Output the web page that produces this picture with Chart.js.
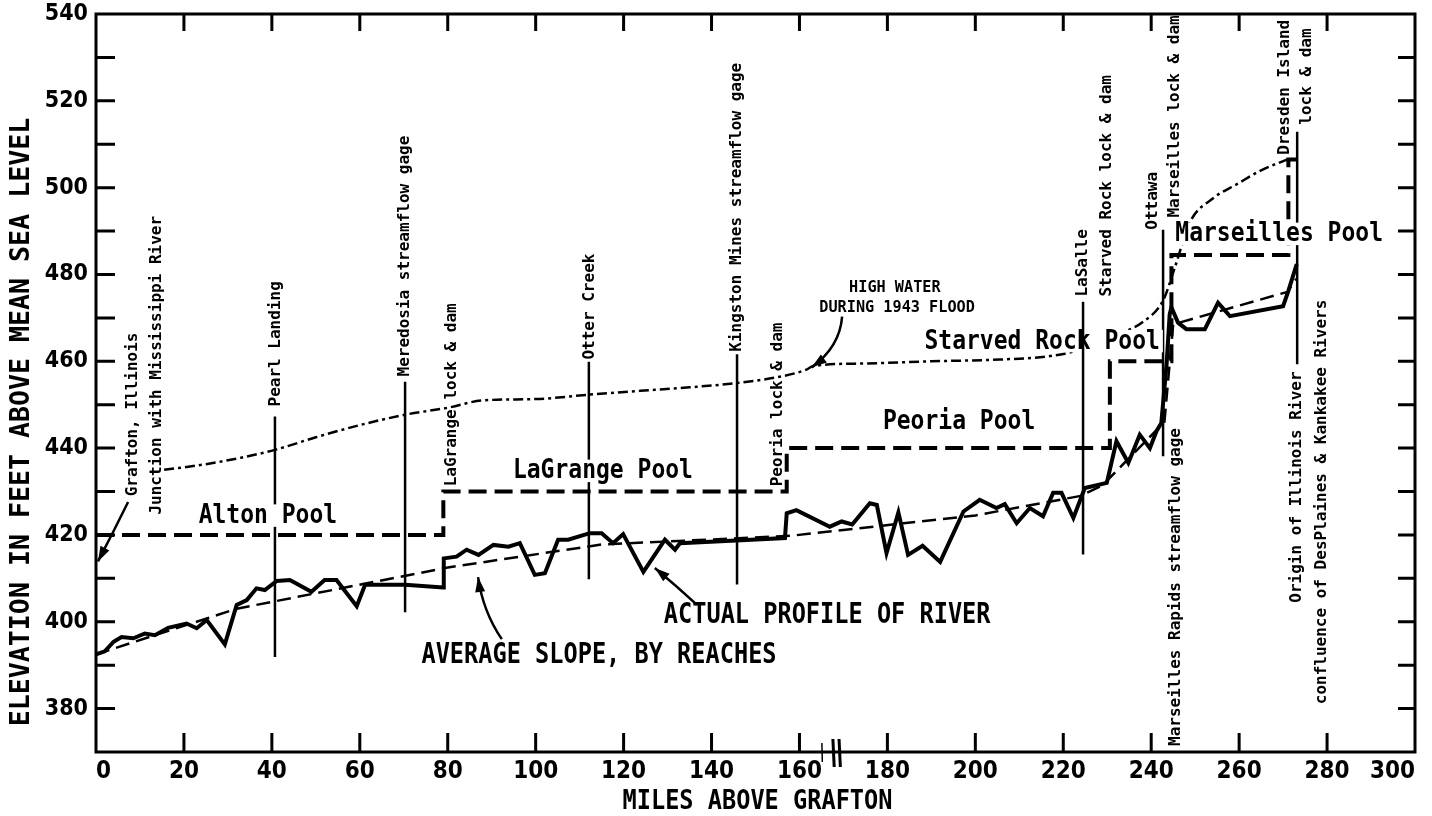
<!DOCTYPE html>
<html>
<head>
<meta charset="utf-8">
<script src="https://cdn.jsdelivr.net/npm/chart.js@4.4.1/dist/chart.umd.min.js"></script>
<style>
  html, body { margin: 0; padding: 0; background: #fff; }
  canvas { display: block; }
</style>
</head>
<body>
<canvas id="profile" width="1432" height="816" style="width:1432px;height:816px"></canvas>
<script>
    // axis ticks
    const xTicks = [0, 20, 40, 60, 80, 100, 120, 140, 160, 180, 200, 220, 240, 260, 280, 300];
    const yTicks = [380, 400, 420, 440, 460, 480, 500, 520, 540];

    // actual profile of river (miles above Grafton, feet)
    const profileMiles = [0, 2, 4, 5.8, 8.5, 11.1, 13.4, 16.4, 20.6, 22.9, 25.2, 29.3, 32, 34.3, 36.5, 38.4,
        41.1, 44.1, 49, 52, 54.7, 59.3, 61.2, 64.6, 70.3, 79, 79.1, 82, 84.3, 87, 90.4, 93.8, 96.4, 99.8,
        102.1, 105.1, 107.4, 112.3, 115, 117.6, 119.9, 124.5, 129.4, 131.7, 132.8, 145.6, 156.7, 157.1,
        159.3, 166.9, 169.6, 172, 176, 177.6, 179.8, 182.5, 184.7, 188, 192, 197.3, 201, 204.8, 206.7,
        209.4, 212.4, 215.4, 217.7, 219.6, 222.3, 224.9, 229.9, 232.1, 234.8, 237.4, 239.7, 241.2, 242.3,
        243.5, 244.2, 244.6, 246.1, 248, 252.2, 255.2, 257.9, 270, 271.2, 273.1];
    const profileElev = [392.5, 393.2, 395.4, 396.5, 396.2, 397.3, 396.9, 398.6, 399.6, 398.5, 400.4, 394.8,
        403.9, 405, 407.7, 407.3, 409.4, 409.6, 406.9, 409.6, 409.6, 403.6, 408.5, 408.5, 408.5, 407.9,
        414.6, 415, 416.6, 415.4, 417.7, 417.3, 418.1, 410.8, 411.2, 418.9, 418.9, 420.4, 420.4, 418.1,
        420.2, 411.5, 418.9, 416.6, 418.1, 418.7, 419.3, 425, 425.7, 421.9, 423.1, 422.4, 427.3, 426.9,
        415.8, 425.2, 415.4, 417.5, 413.8, 425.4, 428.1, 426.2, 427.1, 422.7, 426.2, 424.3, 429.7, 429.7,
        423.9, 430.8, 432, 441.6, 436.6, 443.1, 440, 443.9, 445.8, 459.3, 470.8, 472.4, 468.9, 467.4,
        467.4, 473.5, 470.4, 472.7, 476.2, 482.4];

    // average slope, by reaches
    const slopeMiles = [0, 32, 80, 115, 158, 200, 224, 229, 243, 245, 271, 273];
    const slopeElev = [392.5, 403, 412.5, 417.8, 419.8, 424.5, 429, 431.5, 446, 468.5, 476, 479];

    // high water during 1943 flood
    const floodMiles = [15.5, 25, 33, 40.7, 50, 60, 70.3, 80, 88, 100, 112, 123.7, 135, 145.7, 156.3, 161.6,
        163.1, 175, 190, 205.6, 217.7, 225, 232, 238, 242.7, 245.5, 248.8, 254, 259.5, 265, 271];
    const floodElev = [435, 436.3, 437.8, 439.6, 442.5, 445.3, 447.7, 449.3, 451, 451.3, 452.3, 453.2, 454,
        455, 456.6, 458.1, 458.9, 459.5, 460, 460.4, 461.3, 463, 466, 469, 474, 482, 492, 497.5, 500.8,
        504, 506.5];

    // pool levels behind the locks and dams
    const poolMiles = [0, 79, 79, 157.1, 157.1, 230.6, 230.6, 244.6, 244.6, 271.2, 271.2, 273.1];
    const poolElev = [420, 420, 430, 430, 440, 440, 460, 460, 484.5, 484.5, 506.5, 506.5];

    const MONO = '"DejaVu Sans Mono", "Liberation Mono", monospace';
    const TICK_FONT = '"Liberation Sans Narrow", "DejaVu Sans Condensed", "Liberation Sans", sans-serif';

    function points(xs, ys) {
        return xs.map((x, i) => ({ x: x, y: ys[i] }));
    }

    function drawText(ctx, text, x, y, o) {
        ctx.save();
        ctx.translate(x, y);
        if (o.rot) ctx.rotate(-Math.PI / 2);
        ctx.scale(o.sx || 1, o.sy || 1);
        ctx.font = 'bold ' + o.size + 'px ' + MONO;
        ctx.textAlign = o.align || 'center';
        ctx.textBaseline = 'middle';
        if (o.box) {
            const w = ctx.measureText(text).width;
            ctx.fillStyle = '#fff';
            ctx.fillRect(-w / 2 - 3, -o.size * 0.45, w + 6, o.size * 0.85);
        }
        ctx.fillStyle = '#000';
        ctx.fillText(text, 0, 0);
        ctx.restore();
    }

    function arrow(ctx, x0, y0, cx, cy, x1, y1) {
        ctx.beginPath();
        ctx.moveTo(x0, y0);
        ctx.quadraticCurveTo(cx, cy, x1, y1);
        ctx.stroke();
        const ang = Math.atan2(y1 - cy, x1 - cx);
        ctx.beginPath();
        ctx.moveTo(x1, y1);
        ctx.lineTo(x1 - 15 * Math.cos(ang) + 5 * Math.sin(ang), y1 - 15 * Math.sin(ang) - 5 * Math.cos(ang));
        ctx.lineTo(x1 - 15 * Math.cos(ang) - 5 * Math.sin(ang), y1 - 15 * Math.sin(ang) + 5 * Math.cos(ang));
        ctx.closePath();
        ctx.fill();
    }

    const annotations = {
        id: 'annotations',
        beforeDraw(chart) {
            const ctx = chart.ctx;
            ctx.save();
            ctx.fillStyle = '#fff';
            ctx.fillRect(0, 0, chart.width, chart.height);
            ctx.restore();
        },
        afterDatasetsDraw(chart) {
            const { ctx, chartArea: a, scales } = chart;
            const px = m => scales.x.getPixelForValue(m);
            const py = e => scales.y.getPixelForValue(e);
            ctx.save();
            ctx.strokeStyle = '#000';
            ctx.fillStyle = '#000';
            ctx.lineCap = 'butt';

            // frame and inward ticks
            ctx.lineWidth = 3;
            ctx.strokeRect(a.left, a.top, a.right - a.left, a.bottom - a.top);
            ctx.beginPath();
            for (let v = 380; v < 540; v += 10) {
                ctx.moveTo(a.left, py(v)); ctx.lineTo(a.left + 19, py(v));
                ctx.moveTo(a.right, py(v)); ctx.lineTo(a.right - 17, py(v));
            }
            for (let m = 20; m < 300; m += 20) {
                ctx.moveTo(px(m), a.bottom); ctx.lineTo(px(m), a.bottom - 19);
                ctx.moveTo(px(m), a.top); ctx.lineTo(px(m), a.top + 17);
            }
            ctx.stroke();

            // axis break
            ctx.beginPath();
            ctx.moveTo(px(167.6), a.bottom - 13); ctx.lineTo(px(167.9), a.bottom + 15);
            ctx.moveTo(px(169.0), a.bottom - 13); ctx.lineTo(px(169.3), a.bottom + 15);
            ctx.stroke();
            ctx.lineWidth = 1.5;
            ctx.beginPath();
            ctx.moveTo(px(165.1), a.bottom - 9); ctx.lineTo(px(165.2), a.bottom + 10);
            ctx.stroke();

            // landmark lines
            ctx.lineWidth = 2.5;
            const marks = [[40.7, 447.3, 391.9], [70.3, 455.3, 402.2], [112.1, 459.9, 409.8],
                [145.8, 461.6, 408.6], [242.7, 490.3, 438.1], [273.2, 512.9, 459.3]];
            ctx.beginPath();
            marks.forEach(l => { ctx.moveTo(px(l[0]), py(l[1])); ctx.lineTo(px(l[0]), py(l[2])); });
            ctx.stroke();

            // pool names
            const pools = [['Alton Pool', 39.1, 424.3, true], ['LaGrange Pool', 115.3, 434.6, true],
                ['Peoria Pool', 196.3, 445.9, false], ['Starved Rock Pool', 215.2, 464.5, true],
                ['Marseilles Pool', 269.1, 489.2, true]];
            pools.forEach(p => drawText(ctx, p[0], px(p[1]), py(p[2]), { size: 23, sy: 1.15, box: p[3] }));

            // LaSalle line sits over the pool name
            ctx.lineWidth = 2.5;
            ctx.beginPath();
            ctx.moveTo(px(224.5), py(473.7)); ctx.lineTo(px(224.5), py(415.5));
            ctx.stroke();

            // place names, vertical
            const places = [['Grafton, Illinois', 8.4, 428.9], ['Junction with Mississippi River', 13.9, 424.7],
                ['Pearl Landing', 40.9, 449.6], ['Meredosia streamflow gage', 70.3, 456.5],
                ['LaGrange lock & dam', 81.0, 431.2], ['Otter Creek', 112.4, 460.4],
                ['Kingston Mines streamflow gage', 145.8, 462.2], ['Peoria lock & dam', 155.1, 431.2],
                ['LaSalle', 224.5, 474.9], ['Starved Rock lock & dam', 229.9, 474.9],
                ['Ottawa', 240.4, 490.3], ['Marseilles lock & dam', 245.4, 493.1],
                ['Marseilles Rapids streamflow gage', 245.6, 371.4], ['Dresden Island', 270.4, 507.6],
                ['lock & dam', 275.4, 514.5], ['Origin of Illinois River', 273.2, 404.4],
                ['confluence of DesPlaines & Kankakee Rivers', 278.8, 381]];
            places.forEach(p => drawText(ctx, p[0], px(p[1]), py(p[2]), { size: 16, rot: true, align: 'left' }));

            // notes
            drawText(ctx, 'HIGH WATER', px(181.7), py(477.0), { size: 16, sx: 0.95 });
            drawText(ctx, 'DURING 1943 FLOOD', px(182.2), py(472.4), { size: 16, sx: 0.95 });
            drawText(ctx, 'ACTUAL PROFILE OF RIVER', px(166.3), py(401.3), { size: 23.6, sy: 1.2 });
            drawText(ctx, 'AVERAGE SLOPE, BY REACHES', px(114.4), py(392.1), { size: 23.6, sy: 1.2 });

            // arrows
            ctx.lineWidth = 2.5;
            arrow(ctx, px(7.3), py(427.6), px(4), py(420.8), px(0.45), py(413.9));
            arrow(ctx, px(169.7), py(470.3), px(169.2), py(463.4), px(162.8), py(458.6));
            arrow(ctx, px(136.7), py(403.9), px(132), py(408.3), px(127.1), py(412.4));
            arrow(ctx, px(92.3), py(396), px(88), py(402.4), px(86.9), py(410.3));

            // axis titles
            drawText(ctx, 'ELEVATION IN FEET ABOVE MEAN SEA LEVEL', 22, 422, { size: 26.6, rot: true });
            drawText(ctx, 'MILES ABOVE GRAFTON', (a.left + a.right) / 2 + 2, 802, { size: 23.6, sy: 1.1 });
            ctx.restore();
        }
    };

    const ctx = document.getElementById('profile').getContext('2d');
    const chart = new Chart(ctx, {
        type: 'scatter',
        data: {
            datasets: [
                {
                    label: 'High water during 1943 flood',
                    data: points(floodMiles, floodElev),
                    showLine: true,
                    borderColor: '#000',
                    borderWidth: 2.5,
                    borderDash: [10, 4, 3, 4],
                    cubicInterpolationMode: 'monotone',
                    pointRadius: 0
                },
                {
                    label: 'Pool level',
                    data: points(poolMiles, poolElev),
                    showLine: true,
                    borderColor: '#000',
                    borderWidth: 4,
                    borderDash: [18, 8],
                    pointRadius: 0
                },
                {
                    label: 'Average slope, by reaches',
                    data: points(slopeMiles, slopeElev),
                    showLine: true,
                    borderColor: '#000',
                    borderWidth: 2.5,
                    borderDash: [14, 7],
                    pointRadius: 0
                },
                {
                    label: 'Actual profile of river',
                    data: points(profileMiles, profileElev),
                    showLine: true,
                    borderColor: '#000',
                    borderWidth: 4,
                    borderJoinStyle: 'miter',
                    pointRadius: 0
                }
            ]
        },
        options: {
            responsive: false,
            animation: false,
            devicePixelRatio: 1,
            layout: { padding: { left: 0, right: 17, top: 14, bottom: 0 } },
            plugins: { legend: { display: false }, tooltip: { enabled: false } },
            scales: {
                x: {
                    type: 'linear',
                    min: 0,
                    max: 300,
                    afterBuildTicks: s => { s.ticks = xTicks.map(v => ({ value: v })); },
                    afterFit: s => { s.height = 64; s.paddingLeft = 0; s.paddingRight = 0; },
                    grid: { display: false, drawTicks: false },
                    border: { display: false },
                    ticks: {
                        color: '#000',
                        padding: 5,
                        align: 'inner',
                        maxRotation: 0,
                        autoSkip: false,
                        font: { family: TICK_FONT, size: 24, weight: 'bold' }
                    }
                },
                y: {
                    type: 'linear',
                    min: 370,
                    max: 540,
                    afterBuildTicks: s => { s.ticks = yTicks.map(v => ({ value: v })); },
                    afterFit: s => { s.width = 96; s.paddingTop = 0; s.paddingBottom = 0; },
                    grid: { display: false, drawTicks: false },
                    border: { display: false },
                    ticks: {
                        color: '#000',
                        padding: 8,
                        font: { family: TICK_FONT, size: 23, weight: 'bold' }
                    }
                }
            }
        },
        plugins: [annotations]
    });
</script>
</body>
</html>
